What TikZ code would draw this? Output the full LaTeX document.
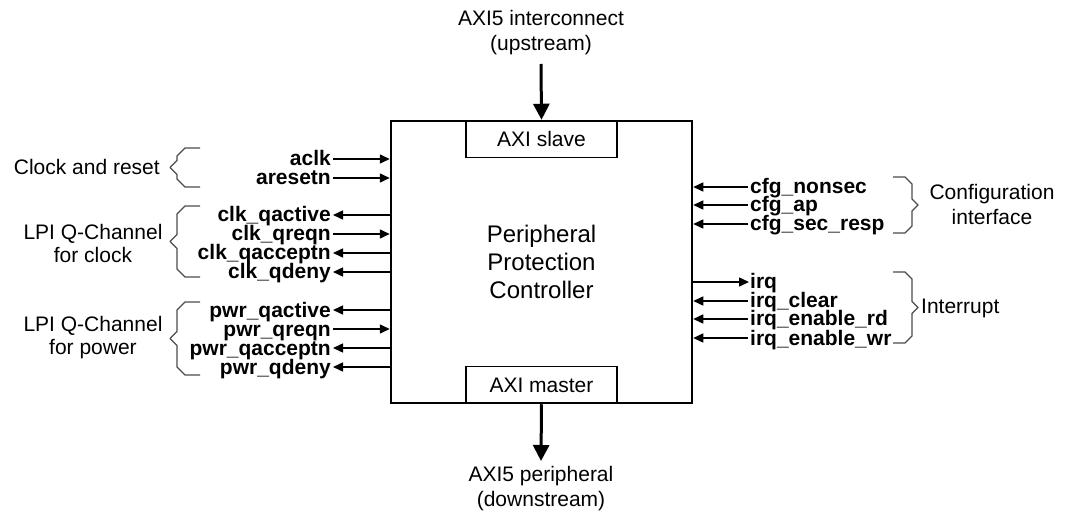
\documentclass[tikz,border=0pt]{standalone}
\usepackage{fontspec}
\setmainfont{Liberation Sans}
\usetikzlibrary{arrows.meta,calc}
\tikzset{
  box/.style={draw, line width=2.5pt, inner sep=0pt},
  subbox/.style={draw, line width=1.6pt, inner sep=0pt, minimum width=151pt, minimum height=37pt, font=\fontsize{21}{25}\selectfont},
  plain/.style={font=\fontsize{21}{25}\selectfont, align=center, inner sep=0pt},
  sigl/.style={font=\fontsize{21}{25}\selectfont\bfseries, inner sep=0pt, text height=15pt, text depth=1pt, anchor=east},
  sigr/.style={font=\fontsize{21}{25}\selectfont\bfseries, inner sep=0pt, text height=15pt, text depth=1pt, anchor=west},
  sig/.style={line width=1.5pt, -{Triangle[length=10pt,width=9pt]}},
  bigarrow/.style={line width=3pt, -{Triangle[length=16pt,width=16pt]}},
  bracestyle/.style={draw=black!70, line width=1.4pt, line join=round},
}
\newcommand\mylbrace[4]{% tip x, arm x, top y, bottom y
  \draw[bracestyle] (#2,#3) -- ({#1+15},#3) -- ({#1+7},{#3+8}) -- ({#1+7},{(#3+#4)/2-7}) -- (#1,{(#3+#4)/2}) -- ({#1+7},{(#3+#4)/2+7}) -- ({#1+7},{#4-8}) -- ({#1+15},#4) -- (#2,#4);}
\newcommand\myrbrace[4]{% tip x, arm x, top y, bottom y
  \draw[bracestyle] (#2,#3) -- ({#1-13},#3) -- ({#1-6},{#3+7}) -- ({#1-6},{(#3+#4)/2-6}) -- (#1,{(#3+#4)/2}) -- ({#1-6},{(#3+#4)/2+6}) -- ({#1-6},{#4-7}) -- ({#1-13},#4) -- (#2,#4);}
\begin{document}
\begin{tikzpicture}[x=1pt,y=-1pt]
\useasboundingbox (0,0) rectangle (1069,513);
% main box
\node[box, minimum width=301pt, minimum height=282pt] (ppc) at (541.5,262) {};
\node[plain, font=\fontsize{24}{28}\selectfont] (ppctext) at (541.5,262) {Peripheral\\Protection\\Controller};
\node[subbox, anchor=north] (slave) at (ppc.north) {AXI slave};
\node[subbox, anchor=south] (master) at (ppc.south) {AXI master};
% top / bottom
\node[plain] (up) at (541,33) {AXI5 interconnect\\(upstream)};
\coordinate (upstart) at (541,64);
\draw[bigarrow] (upstart) -- (slave.north);
\node[plain] (down) at (541,489) {AXI5 peripheral\\(downstream)};
\coordinate (downend) at (541,461);
\draw[bigarrow] (master.south) -- (downend);
% left signals
\node[sigl] (aclk) at (331,159) {aclk};
\node[sigl] (aresetn) at (331,178) {aresetn};
\node[sigl] (cqa) at (331,215) {clk\_qactive};
\node[sigl] (cqr) at (331,234) {clk\_qreqn};
\node[sigl] (cqc) at (331,253) {clk\_qacceptn};
\node[sigl] (cqd) at (331,272) {clk\_qdeny};
\node[sigl] (pqa) at (331,310) {pwr\_qactive};
\node[sigl] (pqr) at (331,329) {pwr\_qreqn};
\node[sigl] (pqc) at (331,348) {pwr\_qacceptn};
\node[sigl] (pqd) at (331,367) {pwr\_qdeny};
\foreach \n in {aclk,aresetn,cqr,pqr}
  \draw[sig] ([xshift=2pt]\n.east) -- (\n.east -| ppc.west);
\foreach \n in {cqa,cqc,cqd,pqa,pqc,pqd}
  \draw[sig] (\n.east -| ppc.west) -- ([xshift=2pt]\n.east);
% right signals
\node[sigr] (cns) at (750,187) {cfg\_nonsec};
\node[sigr] (cap) at (750,205) {cfg\_ap};
\node[sigr] (csr) at (750,224) {cfg\_sec\_resp};
\node[sigr] (irq) at (750,282) {irq};
\node[sigr] (irc) at (750,301) {irq\_clear};
\node[sigr] (ird) at (750,319) {irq\_enable\_rd};
\node[sigr] (irw) at (750,338) {irq\_enable\_wr};
\foreach \n in {cns,cap,csr,irc,ird,irw}
  \draw[sig] ([xshift=-2pt]\n.west) -- (\n.west -| ppc.east);
\draw[sig] (irq.west -| ppc.east) -- ([xshift=-1pt]irq.west);
% left groups
\node[plain, anchor=east] (clkrst) at (160,167) {Clock and reset};
\mylbrace{170}{200}{148}{187}
\node[plain, font=\fontsize{21}{23}\selectfont] (lpiclk) at (93,243) {LPI Q-Channel\\for clock};
\mylbrace{170}{200}{206}{277}
\node[plain, font=\fontsize{21}{23}\selectfont] (lpipwr) at (93,338) {LPI Q-Channel\\for power};
\mylbrace{170}{200}{302}{375}
% right groups
\myrbrace{918}{893}{177}{233}
\node[plain] (cfgif) at (992,204) {Configuration\\interface};
\myrbrace{918}{893}{272}{343}
\node[plain, anchor=west] (intr) at (921,308) {Interrupt};
\end{tikzpicture}
\end{document}
